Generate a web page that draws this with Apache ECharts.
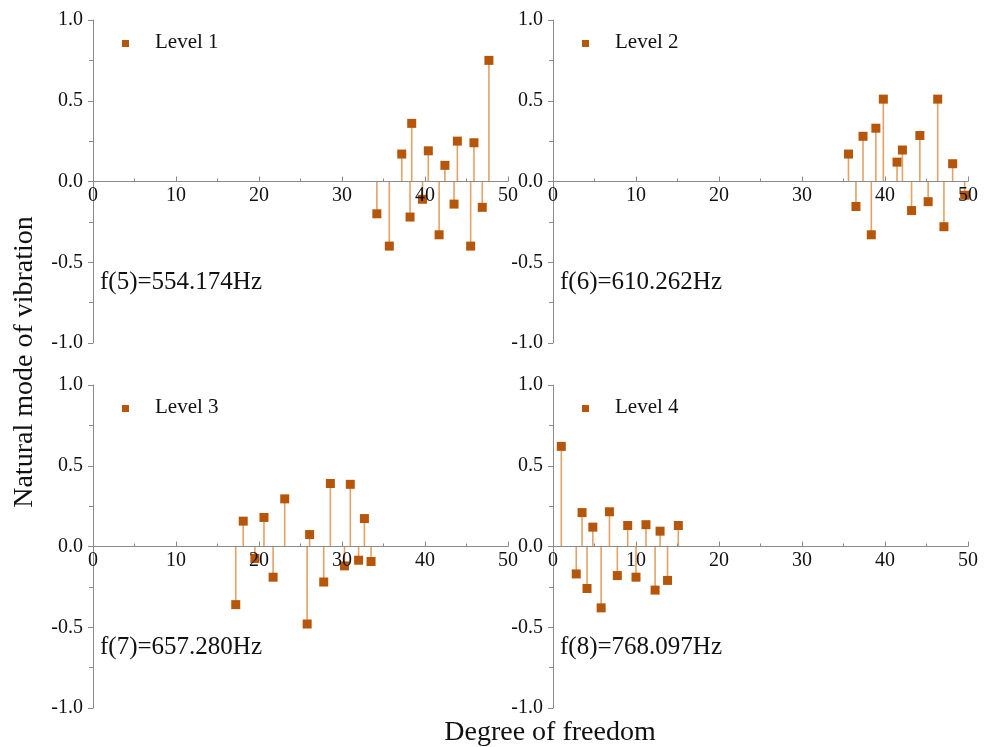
<!DOCTYPE html>
<html>
<head>
<meta charset="utf-8">
<script src="https://cdn.jsdelivr.net/npm/echarts@6/dist/echarts.min.js"></script>
<style>
  html, body { margin: 0; padding: 0; background: #fff; }
  #chart { width: 987px; height: 747px; }
</style>
</head>
<body>
<div id="chart"></div>
<script>
// Mode shape components per degree of freedom, one list per level
const level1Dof = [34.2, 35.7, 37.2, 38.2, 38.4, 39.7, 40.4, 41.7, 42.4, 43.5, 43.9, 45.5, 45.9, 46.9, 47.7];
const level1Val = [-0.20, -0.40, 0.17, -0.22, 0.36, -0.11, 0.19, -0.33, 0.10, -0.14, 0.25, -0.40, 0.24, -0.16, 0.75];

const level2Dof = [35.6, 36.5, 37.35, 38.35, 38.9, 39.8, 41.45, 42.1, 43.2, 44.2, 45.2, 46.35, 47.1, 48.15, 49.6];
const level2Val = [0.17, -0.155, 0.28, -0.33, 0.33, 0.51, 0.12, 0.195, -0.18, 0.285, -0.125, 0.51, -0.28, 0.11, -0.085];

const level3Dof = [17.2, 18.1, 19.5, 20.6, 21.7, 23.1, 25.8, 26.1, 27.8, 28.6, 30.3, 31.0, 32.0, 32.7, 33.5];
const level3Val = [-0.36, 0.157, -0.074, 0.18, -0.19, 0.295, -0.48, 0.074, -0.22, 0.39, -0.12, 0.385, -0.085, 0.173, -0.093];

const level4Dof = [1.0, 2.8, 3.5, 4.1, 4.8, 5.8, 6.8, 7.75, 9.0, 10.0, 11.2, 12.3, 12.9, 13.8, 15.1];
const level4Val = [0.62, -0.17, 0.21, -0.26, 0.12, -0.38, 0.215, -0.18, 0.13, -0.19, 0.135, -0.27, 0.095, -0.21, 0.13];

const levelNames = ['Level 1', 'Level 2', 'Level 3', 'Level 4'];
const freqLabels = ['f(5)=554.174Hz', 'f(6)=610.262Hz', 'f(7)=657.280Hz', 'f(8)=768.097Hz'];
const xTicks = [0, 10, 20, 30, 40, 50];
const yTicks = [-1.0, -0.5, 0.0, 0.5, 1.0];

const levels = [
  [level1Dof, level1Val],
  [level2Dof, level2Val],
  [level3Dof, level3Val],
  [level4Dof, level4Val]
];

const FONT = '"Liberation Serif", "Times New Roman", serif';
const MARK = '#B5560A';
const STEM = '#E3A266';
const AXIS = '#8a8a8a';

const panels = [
  { left: 93, top: 20 },
  { left: 553, top: 20 },
  { left: 93, top: 385 },
  { left: 553, top: 385 }
];
const PW = 415, PH = 323;

const grid = [], xAxis = [], yAxis = [], series = [], graphic = [];

panels.forEach((p, i) => {
  grid.push({ left: p.left, top: p.top, width: PW, height: PH, containLabel: false });
  // Horizontal axis sits on the zero line, half way up the panel
  xAxis.push({
    gridIndex: i, type: 'value', min: 0, max: 50, interval: 10,
    position: 'bottom', offset: -PH / 2, z: 5,
    axisLine: { onZero: false, lineStyle: { color: AXIS, width: 1 } },
    axisTick: { inside: true, length: 5, lineStyle: { color: AXIS } },
    minorTick: { show: true, splitNumber: 2, length: 3, lineStyle: { color: AXIS } },
    splitLine: { show: false },
    axisLabel: {
      fontFamily: FONT, fontSize: 20, color: '#111', margin: 4,
      formatter: v => xTicks.includes(v) ? String(v) : ''
    }
  });
  yAxis.push({
    gridIndex: i, type: 'value', min: -1, max: 1, interval: 0.5,
    axisLine: { show: true, onZero: false, lineStyle: { color: AXIS, width: 1 } },
    axisTick: { show: true, inside: false, length: 5, lineStyle: { color: AXIS } },
    minorTick: { show: true, splitNumber: 2, length: 4, lineStyle: { color: AXIS } },
    splitLine: { show: false },
    axisLabel: {
      fontFamily: FONT, fontSize: 20, color: '#111', margin: 10,
      formatter: v => yTicks.includes(v) ? v.toFixed(1) : ''
    }
  });

  const [dof, val] = levels[i];
  const pts = dof.map((d, k) => [d, val[k]]);

  // Stems from the zero line to each component
  series.push({
    type: 'custom', xAxisIndex: i, yAxisIndex: i, data: pts, z: 2,
    renderItem: (params, api) => {
      const a = api.coord([api.value(0), 0]);
      const b = api.coord([api.value(0), api.value(1)]);
      return {
        type: 'line',
        shape: { x1: a[0], y1: a[1], x2: b[0], y2: b[1] },
        style: { stroke: STEM, lineWidth: 1.6 }
      };
    },
    silent: true
  });
  // Square markers at the component values
  series.push({
    name: levelNames[i], type: 'scatter', xAxisIndex: i, yAxisIndex: i,
    data: pts, symbol: 'rect', symbolSize: 9, z: 3,
    itemStyle: { color: MARK, opacity: 1 }
  });

  // Legend entry and frequency label inside each panel
  graphic.push({
    type: 'rect', left: p.left + 29, top: p.top + 20,
    shape: { width: 7, height: 7 }, style: { fill: MARK }
  });
  graphic.push({
    type: 'text', left: p.left + 62, top: p.top + 12,
    style: { text: levelNames[i], font: '21px ' + FONT, fill: '#111' }
  });
  graphic.push({
    type: 'text', left: p.left + 7, top: p.top + 250,
    style: { text: freqLabels[i], font: '25px ' + FONT, fill: '#111' }
  });
});

graphic.push({
  type: 'text', x: 550, y: 733,
  style: { text: 'Degree of freedom', font: '28px ' + FONT, fill: '#111',
           textAlign: 'center', textVerticalAlign: 'middle' }
});
graphic.push({
  type: 'text', x: 25, y: 362, rotation: Math.PI / 2,
  style: { text: 'Natural mode of vibration', font: '28px ' + FONT, fill: '#111',
           textAlign: 'center', textVerticalAlign: 'middle' }
});

const chart = echarts.init(document.getElementById('chart'), null, { renderer: 'canvas' });
chart.setOption({
  animation: false,
  backgroundColor: '#fff',
  grid, xAxis, yAxis, series, graphic
});
</script>
</body>
</html>
